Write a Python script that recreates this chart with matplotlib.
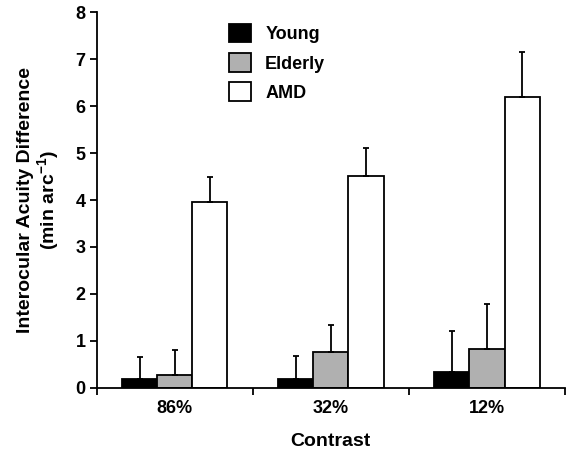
import numpy as np
import matplotlib
matplotlib.use("Agg")
import matplotlib.pyplot as plt

plt.rcParams['font.family'] = ['Liberation Sans', 'DejaVu Sans']
plt.rcParams['font.weight'] = 'bold'
plt.rcParams['mathtext.fontset'] = 'custom'
plt.rcParams['mathtext.rm'] = 'Liberation Sans:bold'
plt.rcParams['mathtext.bf'] = 'Liberation Sans:bold'

# data
contrasts = ['86%', '32%', '12%']
groups = ['Young', 'Elderly', 'AMD']
young = [0.18, 0.18, 0.33]
elderly = [0.28, 0.77, 0.82]
amd = [3.95, 4.52, 6.19]
young_err = [0.47, 0.49, 0.88]
elderly_err = [0.53, 0.57, 0.97]
amd_err = [0.53, 0.59, 0.97]

colors = ['black', '#b0b0b0', 'white']
means = [young, elderly, amd]
errs = [young_err, elderly_err, amd_err]

fig = plt.figure(figsize=(5.69, 4.5), dpi=100)
ax = fig.add_axes([0.170, 0.138, 0.823, 0.835])

x = np.arange(len(contrasts)) + 0.5
w = 0.225
for i in range(3):
    ax.bar(x + (i - 1) * w, means[i], w, color=colors[i], edgecolor='black',
           linewidth=1.3, label=groups[i],
           yerr=[np.zeros(3), errs[i]], capsize=2.5,
           error_kw=dict(ecolor='black', elinewidth=1.3, capthick=1.3))

ax.set_xlim(0, 3)
ax.set_ylim(0, 8)
ax.set_yticks(range(9))
ax.set_xticks([0, 1, 2, 3])
ax.set_xticklabels([])
ax.set_xticks(x, minor=True)
ax.set_xticklabels(contrasts, minor=True)
ax.tick_params(axis='x', which='minor', length=0, pad=9, labelsize=13)
ax.tick_params(axis='x', which='major', length=5, width=1.3, direction='out')
ax.tick_params(axis='y', length=5, width=1.3, direction='out', labelsize=13, pad=3)
for lab in ax.get_yticklabels() + ax.get_xticklabels(minor=True):
    lab.set_fontweight('bold')

ax.spines['top'].set_visible(False)
ax.spines['right'].set_visible(False)
ax.spines['left'].set_linewidth(1.3)
ax.spines['bottom'].set_linewidth(1.3)

ax.set_xlabel('Contrast', fontsize=14, fontweight='bold', labelpad=11)
ax.set_ylabel('Interocular Acuity Difference\n(min arc$^{-1}$)', fontsize=14,
              fontweight='bold', labelpad=10, linespacing=1.05)

ax.legend(loc='upper left', bbox_to_anchor=(0.248, 1.012), frameon=False,
          handlelength=1.2, handleheight=1.2, handletextpad=0.8,
          labelspacing=0.55, prop={'weight': 'bold', 'size': 13})

fig.savefig('out.png', dpi=100)
